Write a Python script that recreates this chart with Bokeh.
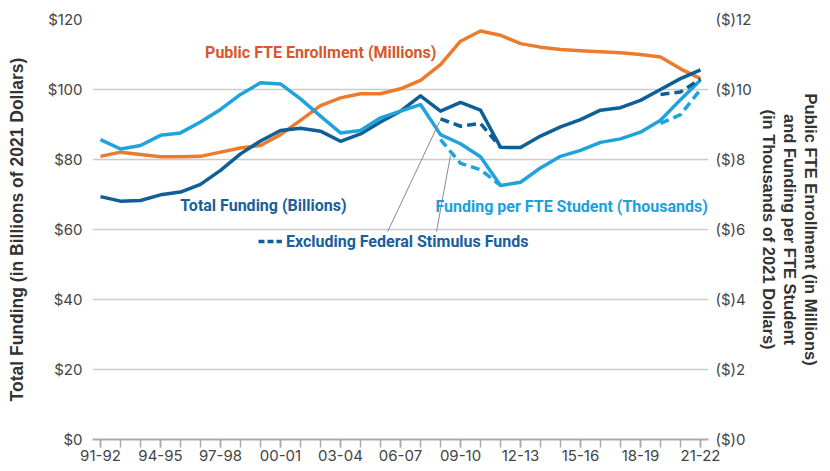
import numpy as np
from bokeh.plotting import figure
from bokeh.models import (Range1d, LinearAxis, FixedTicker, NumeralTickFormatter,
                          CustomJSTickFormatter, Label)
from bokeh.embed import file_html
from bokeh.resources import INLINE

years = ["91-92", "92-93", "93-94", "94-95", "95-96", "96-97", "97-98", "98-99",
         "99-00", "00-01", "01-02", "02-03", "03-04", "04-05", "05-06", "06-07",
         "07-08", "08-09", "09-10", "10-11", "11-12", "12-13", "13-14", "14-15",
         "15-16", "16-17", "17-18", "18-19", "19-20", "20-21", "21-22"]

# Total funding, billions of 2021 dollars (left axis)
total_funding = [69.4, 68.1, 68.3, 69.9, 70.7, 72.9, 76.9, 81.6, 85.3, 88.3,
                 88.9, 88.1, 85.2, 87.3, 90.7, 93.8, 98.2, 93.8, 96.3, 94.1,
                 83.5, 83.4, 86.7, 89.3, 91.4, 94.1, 94.8, 96.9, 100.0, 103.1, 105.6]
nan = float("nan")
# Total funding excluding federal stimulus funds
total_excl = [nan] * 17 + [91.6, 89.5, 90.3, 83.5] + [nan] * 7 + [98.6, 99.3, 103.0]

# Funding per FTE student, thousands of 2021 dollars (right axis)
per_fte = [8.57, 8.30, 8.40, 8.69, 8.76, 9.07, 9.43, 9.86, 10.19, 10.16,
           9.73, 9.24, 8.76, 8.83, 9.19, 9.38, 9.57, 8.71, 8.45, 8.08,
           7.26, 7.35, 7.76, 8.09, 8.26, 8.49, 8.59, 8.78, 9.12, 9.71, 10.27]
per_fte_excl = [nan] * 17 + [8.57, 7.89, 7.71, 7.26] + [nan] * 7 + [9.03, 9.28, 10.00]

# Public FTE enrollment, millions (right axis)
enrollment = [8.09, 8.21, 8.14, 8.08, 8.08, 8.09, 8.21, 8.33, 8.40, 8.71,
              9.12, 9.54, 9.76, 9.88, 9.88, 10.02, 10.26, 10.71, 11.38, 11.67,
              11.55, 11.31, 11.21, 11.14, 11.11, 11.08, 11.05, 11.00, 10.93, 10.59, 10.31]

left_ticks = [0, 20, 40, 60, 80, 100, 120]
right_ticks = [0, 2, 4, 6, 8, 10, 12]

DARK = "#0E5E98"
LIGHT = "#1EA3DC"
ORANGE = "#EB7B2D"
ORANGE_TXT = "#D8572A"
DARK_TXT = "#17609C"
LIGHT_TXT = "#1BA1DB"
GRID = "#cccccc"
AX = "#aaaaaa"
TICK_FONT = "Inter"
TITLE_FONT = "Liberation Sans"
ANN_FONT = "Roboto"

x = list(range(len(years)))

p = figure(width=822, height=463, output_backend="svg", toolbar_location=None,
           x_range=Range1d(-0.4, 30.4), y_range=Range1d(0, 120),
           min_border_left=92, min_border_right=0, min_border_top=19,
           min_border_bottom=0)
p.outline_line_color = None
p.background_fill_color = "white"
p.border_fill_color = "white"
p.extra_y_ranges = {"right": Range1d(0, 12)}

p.xgrid.grid_line_color = None
p.ygrid.grid_line_color = GRID
p.ygrid.grid_line_width = 1.5
p.ygrid.ticker = FixedTicker(ticks=left_ticks)

# left axis
ly = p.yaxis[0]
ly.ticker = FixedTicker(ticks=left_ticks)
ly.formatter = NumeralTickFormatter(format="$0")
ly.axis_line_color = None
ly.major_tick_line_color = None
ly.minor_tick_line_color = None
ly.major_tick_out = 0
ly.minor_tick_out = 0
ly.major_tick_in = 0
ly.minor_tick_in = 0
ly.major_label_text_font = TICK_FONT
ly.major_label_text_font_size = "15px"
ly.major_label_text_color = "#444444"
ly.major_label_standoff = 10
ly.axis_label = "Total Funding (in Billions of 2021 Dollars)"
ly.axis_label_text_font = TITLE_FONT
ly.axis_label_text_font_style = "bold"
ly.axis_label_text_font_size = "17.5px"
ly.axis_label_text_color = "#333333"
ly.axis_label_standoff = 18

# bottom axis
bx = p.xaxis[0]
bx.ticker = FixedTicker(ticks=list(range(0, 31, 3)), minor_ticks=x)
bx.major_label_overrides = {i: years[i] for i in range(0, 31, 3)}
bx.axis_line_color = AX
bx.axis_line_width = 2
bx.major_tick_line_color = AX
bx.minor_tick_line_color = AX
bx.major_tick_line_width = 1.5
bx.minor_tick_line_width = 1.5
bx.major_tick_in = 0
bx.minor_tick_in = 0
bx.major_tick_out = 8
bx.minor_tick_out = 8
bx.major_label_text_font = TICK_FONT
bx.major_label_text_font_size = "15px"
bx.major_label_text_color = "#444444"
bx.major_label_standoff = 2

# right axes (one per title line)
def right_axis(label, with_ticks):
    ax = LinearAxis(y_range_name="right", axis_label=label)
    ax.axis_line_color = None
    ax.major_tick_line_color = None
    ax.minor_tick_line_color = None
    ax.major_tick_out = 0
    ax.minor_tick_out = 0
    ax.major_tick_in = 0
    ax.minor_tick_in = 0
    ax.axis_label_text_font = TITLE_FONT
    ax.axis_label_text_font_style = "bold"
    ax.axis_label_text_font_size = "16.5px"
    ax.axis_label_text_color = "#333333"
    if with_ticks:
        ax.ticker = FixedTicker(ticks=right_ticks)
        ax.formatter = CustomJSTickFormatter(code="return '($)' + tick;")
        ax.major_label_text_font = TICK_FONT
        ax.major_label_text_font_size = "15px"
        ax.major_label_text_color = "#444444"
        ax.major_label_standoff = 7
        ax.axis_label_standoff = 5
    else:
        ax.ticker = FixedTicker(ticks=[])
        ax.major_label_text_font_size = "0px"
        ax.major_label_standoff = 0
        ax.axis_label_standoff = 0
    return ax

p.add_layout(right_axis("(in Thousands of 2021 Dollars)", True), "right")
p.add_layout(right_axis("and Funding per FTE Student", False), "right")
p.add_layout(right_axis("Public FTE Enrollment (in Millions)", False), "right")

# data lines
p.line(x, enrollment, y_range_name="right", line_color=ORANGE, line_width=3.5,
       line_join="round")
p.line(x, total_funding, line_color=DARK, line_width=3.5, line_join="round")
p.line(x, per_fte, y_range_name="right", line_color=LIGHT, line_width=3.5,
       line_join="round")
p.line(x, total_excl, line_color=DARK, line_width=3.5, line_dash="9 5")
p.line(x, per_fte_excl, y_range_name="right", line_color=LIGHT, line_width=3.5,
       line_dash="9 5")

# leader lines
p.segment(x0=[14.36, 16.80], y0=[59.4, 59.4], x1=[16.95, 17.50], y1=[90.8, 81.2],
          line_color="#8a8a8a", line_width=1)

# legend-like dash for excluding stimulus
p.line([7.9, 9.07], [56.6, 56.6], line_color=DARK, line_width=3.5, line_dash="6 3")

def ann(xv, yv, text, color, align="left"):
    p.add_layout(Label(x=xv, y=yv, text=text, text_color=color,
                       text_font=ANN_FONT, text_font_style="bold",
                       text_font_size="16px", text_baseline="middle",
                       text_align=align))

ann(5.23, 110.6, "Public FTE Enrollment (Millions)", ORANGE_TXT)
ann(3.99, 66.9, "Total Funding (Billions)", DARK_TXT)
ann(30.37, 66.7, "Funding per FTE Student (Thousands)", LIGHT_TXT, "right")
ann(9.27, 56.6, "Excluding Federal Stimulus Funds", DARK_TXT)

open("out.html", "w").write(file_html(p, INLINE))
